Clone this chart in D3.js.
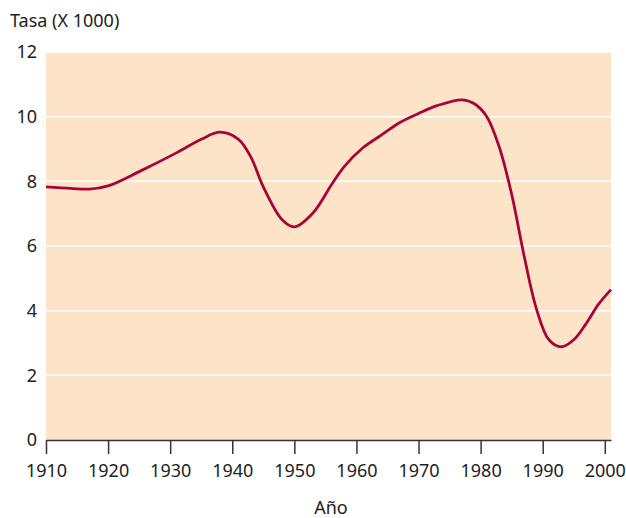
<!DOCTYPE html>
<html>
<head>
<meta charset="utf-8">
<script src="https://cdn.jsdelivr.net/npm/d3@7"></script>
<style>
  body { margin: 0; background: #fff; }
  text { font-family: "Noto Sans", "Open Sans", sans-serif; fill: #222; }
</style>
</head>
<body>
<div id="chart"></div>
<script>
(function(){

    // data
    var years  = [1910,1914,1917,1920,1925,1931,1935,1938,1941,1943,1945,1948,1950,1953,1956,1958,1961,1964,1967,1970,1973,1977,1979,1981,1983,1985,1987,1989,1991,1993,1995,1997,1999,2001];
    var rates  = [7.83,7.78,7.76,7.86,8.3,8.88,9.3,9.52,9.3,8.75,7.83,6.82,6.59,7.02,7.9,8.45,9.03,9.43,9.82,10.1,10.34,10.52,10.4,10.0,9.06,7.6,5.7,4.05,3.1,2.88,3.1,3.6,4.2,4.65];
    var xTicks = [1910,1920,1930,1940,1950,1960,1970,1980,1990,2000];
    var yTicks = [0,2,4,6,8,10,12];

    var width = 626, height = 518;
    var left = 46, right = 611, top = 52, bottom = 440;

    var svg = d3.select("#chart")
        .append("svg")
        .attr("width", width)
        .attr("height", height);

    var x = d3.scaleLinear().domain([1910, 2001]).range([left, right]);
    var y = d3.scaleLinear().domain([0, 12]).range([bottom, top]);

    // background
    svg.append("rect")
        .attr("x", left)
        .attr("y", top)
        .attr("width", right - left)
        .attr("height", bottom - top)
        .attr("fill", "#fde4c9");

    // white gridlines
    svg.selectAll("line.grid")
        .data(yTicks.filter(function(d){ return d > 0; }))
        .enter()
        .append("line")
        .attr("class", "grid")
        .attr("x1", left)
        .attr("x2", right)
        .attr("y1", function(d){ return y(d); })
        .attr("y2", function(d){ return y(d); })
        .attr("stroke", "#fff")
        .attr("stroke-width", 1.5);

    // x axis
    var xAxis = svg.append("g")
        .attr("transform", "translate(0," + bottom + ")")
        .call(d3.axisBottom(x).tickValues(xTicks).tickFormat(d3.format("d")).tickSize(14).tickSizeOuter(0).tickPadding(10));
    xAxis.select(".domain").attr("stroke", "#333").attr("stroke-width", 1.5);
    xAxis.selectAll(".tick line").attr("stroke", "#333").attr("stroke-width", 1.5);
    xAxis.selectAll("text").style("font-size", "18px").attr("fill", "#222")
        .style("font-family", "'Noto Sans', sans-serif");

    // y labels
    var yAxis = svg.append("g")
        .attr("transform", "translate(" + left + ",0)")
        .call(d3.axisLeft(y).tickValues(yTicks).tickSize(0).tickPadding(9));
    yAxis.select(".domain").remove();
    yAxis.selectAll("text").style("font-size", "18px").attr("fill", "#222")
        .style("font-family", "'Noto Sans', sans-serif");

    // line
    var line = d3.line()
        .x(function(d, i){ return x(years[i]); })
        .y(function(d){ return y(d); })
        .curve(d3.curveCatmullRom.alpha(0.5));

    svg.append("path")
        .datum(rates)
        .attr("d", line)
        .attr("fill", "none")
        .attr("stroke", "#a80536")
        .attr("stroke-width", 2.8);

    // titles
    svg.append("text")
        .attr("x", 10)
        .attr("y", 27)
        .style("font-size", "18px")
        .text("Tasa (X 1000)");

    svg.append("text")
        .attr("x", 331)
        .attr("y", 514)
        .attr("text-anchor", "middle")
        .style("font-size", "18px")
        .text("Año");
})();
</script>
</body>
</html>
